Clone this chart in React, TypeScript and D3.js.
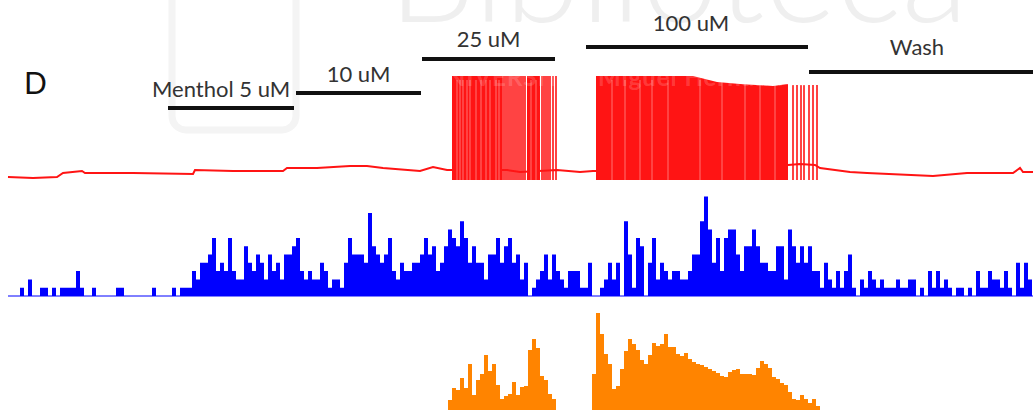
import React from "react";
import * as d3 from "d3";

// ---------- DATA ----------
// time axis in minutes
const totalMinutes = 20.5;
const binWidth = 0.08; // minutes per histogram bin

// drug application periods (minutes)
const conditionLabels = ["Menthol 5 uM", "10 uM", "25 uM", "100 uM", "Wash"];
const conditionStart = [3.2, 5.76, 8.28, 11.56, 16.02];
const conditionEnd = [5.72, 8.26, 10.94, 16.0, 20.5];

// membrane potential baseline (minutes, mV)
const baselineTime = [0, 0.5, 0.98, 1.1, 1.48, 1.54, 2.5, 3.7, 3.74, 4.5, 5.5, 5.58, 6.18, 6.84, 7.18, 7.5, 8.24, 8.5, 8.78, 9.98, 10.24, 10.98, 11.44, 11.7, 13.84, 15.6, 15.84, 16.14, 16.24, 16.84, 17.18, 18.5, 19.18, 20.1, 20.24, 20.3, 20.5];
const baselineMv = [-67, -68, -67, -63, -61, -63, -63, -64, -60, -61, -61, -58, -58, -56, -56, -58, -61, -57, -60, -60, -62, -60, -62, -61, -60, -55, -54, -55, -58, -62, -63, -66, -63, -63, -58, -62, -62];

// dense firing bursts: envelope of spike peaks (minutes, mV)
const burst25aTime = [8.88, 9.88];
const burst25aPeak = [34, 34];
const burst25bTime = [10.38, 10.64];
const burst25bPeak = [34, 34];
const burst100Time = [11.76, 13.7, 14.18, 14.64, 15.3, 15.6];
const burst100Peak = [34, 34, 28, 26, 24, 26];
const spikeTrough = -70;

// isolated spikes (minutes, peak mV)
const spikeTime = [9.9, 9.94, 9.98, 10.02, 10.06, 10.1, 10.14, 10.18, 10.22, 10.26, 10.3, 10.34, 10.68, 10.72, 10.76, 10.8, 10.84, 10.9, 10.96, 15.7, 15.78, 15.86, 15.92, 16.02, 16.1, 16.18];
const spikePeak = [34, 34, 34, 34, 34, 34, 34, 34, 34, 34, 34, 34, 34, 34, 34, 34, 34, 34, 34, 25, 25, 25, 25, 25, 25, 25];

// brief inter-spike gaps within dense bursts (minutes)
const gapTime = [8.98, 9.04, 9.1, 9.18, 9.24, 9.36, 9.46, 9.56, 9.64, 9.76, 9.82, 10.46, 10.56, 12.08, 12.34, 12.64, 12.88, 13.2, 13.84, 14.28, 14.74, 15.04, 15.34];

// spike count per bin (blue histogram)
const spikeCounts = [
  0, 0, 0, 1, 0, 2, 0, 0, 1, 1,
  0, 1, 0, 1, 1, 1, 1, 3, 1, 0,
  0, 1, 0, 0, 0, 0, 0, 1, 1, 0,
  0, 0, 0, 0, 0, 0, 1, 0, 0, 0,
  0, 1, 0, 1, 1, 1, 3, 2, 4, 4,
  5, 7, 3, 4, 3, 7, 3, 2, 2, 6,
  4, 3, 5, 4, 2, 5, 3, 4, 2, 5,
  5, 6, 7, 3, 2, 3, 2, 2, 4, 3,
  1, 2, 2, 1, 4, 7, 5, 5, 5, 4,
  10, 6, 5, 4, 5, 7, 3, 2, 4, 3,
  3, 4, 4, 5, 7, 5, 6, 3, 4, 6,
  8, 7, 6, 9, 7, 4, 6, 4, 4, 2,
  5, 5, 7, 4, 6, 7, 4, 5, 2, 4,
  0, 1, 2, 3, 5, 2, 5, 3, 2, 1,
  3, 3, 3, 1, 1, 4, 0, 0, 1, 2,
  4, 2, 4, 0, 9, 5, 1, 7, 6, 0,
  4, 7, 2, 4, 3, 2, 3, 3, 2, 2,
  3, 5, 5, 9, 12, 8, 4, 7, 3, 7,
  8, 8, 5, 3, 6, 6, 8, 6, 4, 4,
  3, 3, 6, 6, 2, 8, 6, 4, 6, 4,
  6, 3, 3, 1, 4, 2, 1, 3, 1, 3,
  5, 1, 0, 2, 1, 3, 2, 1, 2, 1,
  1, 1, 2, 1, 1, 2, 2, 0, 1, 0,
  3, 1, 3, 1, 2, 1, 0, 1, 1, 0,
  1, 0, 3, 1, 1, 3, 2, 2, 1, 3,
  1, 0, 4, 1, 4, 2,
];

// instantaneous frequency (orange histogram), starts at orangeStart
const orangeStart = 8.8;
const firingRate = [
  10, 22, 20, 32, 22, 46, 15, 30, 36, 55,
  39, 46, 25, 11, 14, 16, 28, 15, 23, 24,
  60, 71, 62, 34, 30, 16, 11, 0, 0, 0,
  0, 0, 0, 0, 0, 0, 36, 97, 76, 56,
  46, 21, 24, 41, 59, 71, 66, 60, 50, 46,
  55, 67, 64, 66, 76, 63, 63, 56, 54, 57,
  51, 48, 46, 45, 43, 41, 39, 37, 34, 33,
  38, 40, 41, 36, 36, 36, 35, 42, 49, 46,
  42, 33, 31, 27, 25, 18, 11, 10, 15, 11,
  7, 11, 4,
];

// ---------- LAYOUT ----------
const W = 1033;
const H = 410;
const barY = [108, 93, 59, 47, 72];
const labelY = [97, 82, 47, 31, 55];
const labelShift = [0, 0, 0, -6, -4];
const FONT = "Lato, 'Open Sans', sans-serif";

export default function App() {
  const x = d3.scaleLinear().domain([0, totalMinutes]).range([8, 1033]);
  const yRed = d3.scaleLinear().domain([-80, 40]).range([190, 70]);
  const yBlue = d3.scaleLinear().domain([0, 12]).range([296, 196.4]);
  const yOrange = d3.scaleLinear().domain([0, 100]).range([410, 310]);

  const red = "#ff1414";
  const blue = "#0000ff";
  const orange = "#ff8400";

  const baseLine = d3
    .line<number>()
    .x((_, i) => x(baselineTime[i]))
    .y((v) => yRed(v));

  const burstArea = (times: number[]) =>
    d3
      .area<number>()
      .x((_, i) => x(times[i]))
      .y0(yRed(spikeTrough))
      .y1((v) => yRed(v));

  const stepPts = (start: number, vals: number[]) => {
    const pts = vals.map((v, i) => [start + i * binWidth, v] as [number, number]);
    pts.push([start + vals.length * binWidth, vals[vals.length - 1]]);
    return pts;
  };

  const blueArea = d3
    .area<[number, number]>()
    .curve(d3.curveStepAfter)
    .x((d) => x(d[0]))
    .y0(yBlue(0))
    .y1((d) => yBlue(d[1]));

  const orangeArea = d3
    .area<[number, number]>()
    .curve(d3.curveStepAfter)
    .x((d) => x(d[0]))
    .y0(yOrange(0))
    .y1((d) => yOrange(d[1]));

  return (
    <svg width={W} height={H} style={{ position: "absolute", left: 0, top: 0, background: "#fff" }}>
      {/* faint watermark (background part) */}
      <g>
        <rect x={172} y={-20} width={124} height={150} rx={14} fill="none" stroke="#f4f4f4" strokeWidth={7} />
        <text x={388} y={22} fontFamily={FONT} fontSize={138} fontWeight={300} fill="#efefef">
          Biblioteca
        </text>
      </g>

      <text x={24} y={94} fontFamily={FONT} fontSize={30} fill="#111">
        D
      </text>

      {conditionLabels.map((lab, i) => (
        <g key={lab}>
          <line
            x1={x(conditionStart[i])}
            x2={x(conditionEnd[i])}
            y1={barY[i]}
            y2={barY[i]}
            stroke="#111"
            strokeWidth={4}
          />
          <text
            x={i === 0 ? 152 : (x(conditionStart[i]) + x(conditionEnd[i])) / 2 + labelShift[i]}
            y={labelY[i]}
            textAnchor={i === 0 ? "start" : "middle"}
            fontFamily={FONT}
            fontSize={22}
            fill="#333"
          >
            {lab}
          </text>
        </g>
      ))}

      {/* red membrane potential trace */}
      <path d={baseLine(baselineMv) || ""} fill="none" stroke={red} strokeWidth={2} />
      <path d={burstArea(burst25aTime)(burst25aPeak) || ""} fill={red} />
      <path d={burstArea(burst25bTime)(burst25bPeak) || ""} fill={red} />
      <path d={burstArea(burst100Time)(burst100Peak) || ""} fill={red} />
      {spikeTime.map((t, i) => (
        <line key={"s" + i} x1={x(t)} x2={x(t)} y1={yRed(spikeTrough)} y2={yRed(spikePeak[i])} stroke={red} strokeWidth={1.6} />
      ))}
      {gapTime.map((t, i) => (
        <line key={"g" + i} x1={x(t)} x2={x(t)} y1={yRed(30)} y2={yRed(spikeTrough)} stroke="#fff" strokeOpacity={0.4} strokeWidth={1} />
      ))}

      {/* faint watermark line lying over the trace */}
      <text x={428} y={86} fontFamily={FONT} fontSize={24} fontWeight={700} fill="#ffffff" fillOpacity={0.18} letterSpacing={1}>
        UNIVERSITAS Miguel Hernández
      </text>

      {/* blue spike-count histogram */}
      <path d={blueArea(stepPts(0, spikeCounts)) || ""} fill={blue} />
      <line x1={x(0)} x2={x(totalMinutes)} y1={yBlue(0)} y2={yBlue(0)} stroke={blue} strokeWidth={1} />

      {/* orange firing-rate histogram */}
      <path d={orangeArea(stepPts(orangeStart, firingRate)) || ""} fill={orange} />
    </svg>
  );
}
